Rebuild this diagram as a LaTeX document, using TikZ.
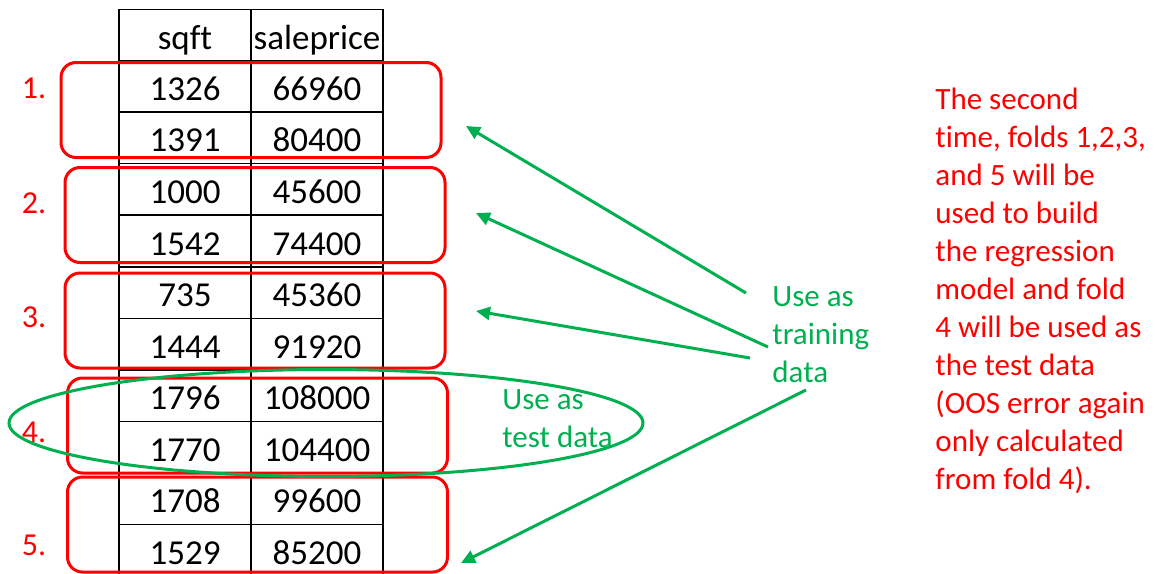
\documentclass[tikz,border=0pt]{standalone}
\usepackage{fontspec}
\setmainfont{Carlito}[Ligatures=NoCommon]
\usetikzlibrary{shapes.geometric,arrows.meta}
\definecolor{foldgreen}{RGB}{0,176,80}
\begin{document}
\begin{tikzpicture}[x=0.5pt,y=-0.5pt]
\tikzstyle{c}=[draw,line width=0.75pt,minimum width=66pt,minimum height=25.75pt,inner sep=0pt,text height=14pt,text depth=0pt,font=\fontsize{17.5}{21}\selectfont]
\tikzstyle{fold}=[draw=red,line width=1.5pt,rounded corners=7.5pt,minimum width=190pt,minimum height=47.5pt,inner sep=0pt]
\tikzstyle{num}=[text=red,font=\fontsize{16}{19}\selectfont]
\tikzstyle{gtext}=[text=foldgreen,align=left,inner sep=0pt,anchor=west,font=\fontsize{15.5}{19}\selectfont]
\tikzstyle{ring}=[draw=foldgreen,line width=1.5pt,ellipse,minimum width=317pt,minimum height=53.5pt,inner sep=0pt]
\tikzstyle{arr}=[draw=foldgreen,line width=1.5pt,-{Triangle[length=7pt,width=6.5pt]}]
\useasboundingbox (0,0) rectangle (1155,573);

% Table
\node[c] (h1) at (185,35) {sqft};
\node[c] (h2) at (317,35) {saleprice};
\node[c] (a1) at (185,86.5) {1326};
\node[c] (a2) at (317,86.5) {66960};
\node[c] (b1) at (185,137.5) {1391};
\node[c] (b2) at (317,137.5) {80400};
\node[c] (c1) at (185,189) {1000};
\node[c] (c2) at (317,189) {45600};
\node[c] (d1) at (185,241) {1542};
\node[c] (d2) at (317,241) {74400};
\node[c] (e1) at (185,292.5) {735};
\node[c] (e2) at (317,292.5) {45360};
\node[c] (f1) at (185,344) {1444};
\node[c] (f2) at (317,344) {91920};
\node[c] (g1) at (185,395.5) {1796};
\node[c] (g2) at (317,395.5) {108000};
\node[c] (k1) at (185,447) {1770};
\node[c] (k2) at (317,447) {104400};
\node[c] (i1) at (185,498.5) {1708};
\node[c] (i2) at (317,498.5) {99600};
\node[c] (j1) at (185,550) {1529};
\node[c] (j2) at (317,550) {85200};

% Folds
\node[fold] (fold1) at (251,110) {};
\node[fold] (fold2) at (255,215) {};
\node[fold] (fold3) at (255,320.5) {};
\node[fold] (fold4) at (257.5,425.5) {};
\node[fold] (fold5) at (257.5,524.5) {};
\node[num] (n1) at (34,88) {1.};
\node[num] (n2) at (34,203) {2.};
\node[num] (n3) at (34,317) {3.};
\node[num] (n4) at (34,432) {4.};
\node[num] (n5) at (34,545) {5.};

% Test data
\node[ring] (ring) at (326,423) {};
\node[gtext] (test) at (502,419) {Use as\\test data};

% Training data
\node[gtext] (train) at (772,334.5) {Use as\\training\\data};
\coordinate (s1) at (746,293);
\coordinate (s2) at (768,347);
\coordinate (s3) at (750,358);
\coordinate (s4) at (806,390);
\coordinate (p1) at (466,126);
\coordinate (p2) at (476,213);
\coordinate (p3) at (476,311);
\coordinate (p4) at (461,563);
\draw[arr] (s1)--(p1);
\draw[arr] (s2)--(p2);
\draw[arr] (s3)--(p3);
\draw[arr] (s4)--(p4);

% Note
\node[text=red,align=left,inner sep=0pt,anchor=west,font=\fontsize{15.5}{19}\selectfont] (note) at (935,291) {The second\\time, folds 1,2,3,\\and 5 will be\\used to build\\the regression\\model and fold\\4 will be used as\\the test data\\(OOS error again\\only calculated\\from fold 4).};
\end{tikzpicture}
\end{document}
